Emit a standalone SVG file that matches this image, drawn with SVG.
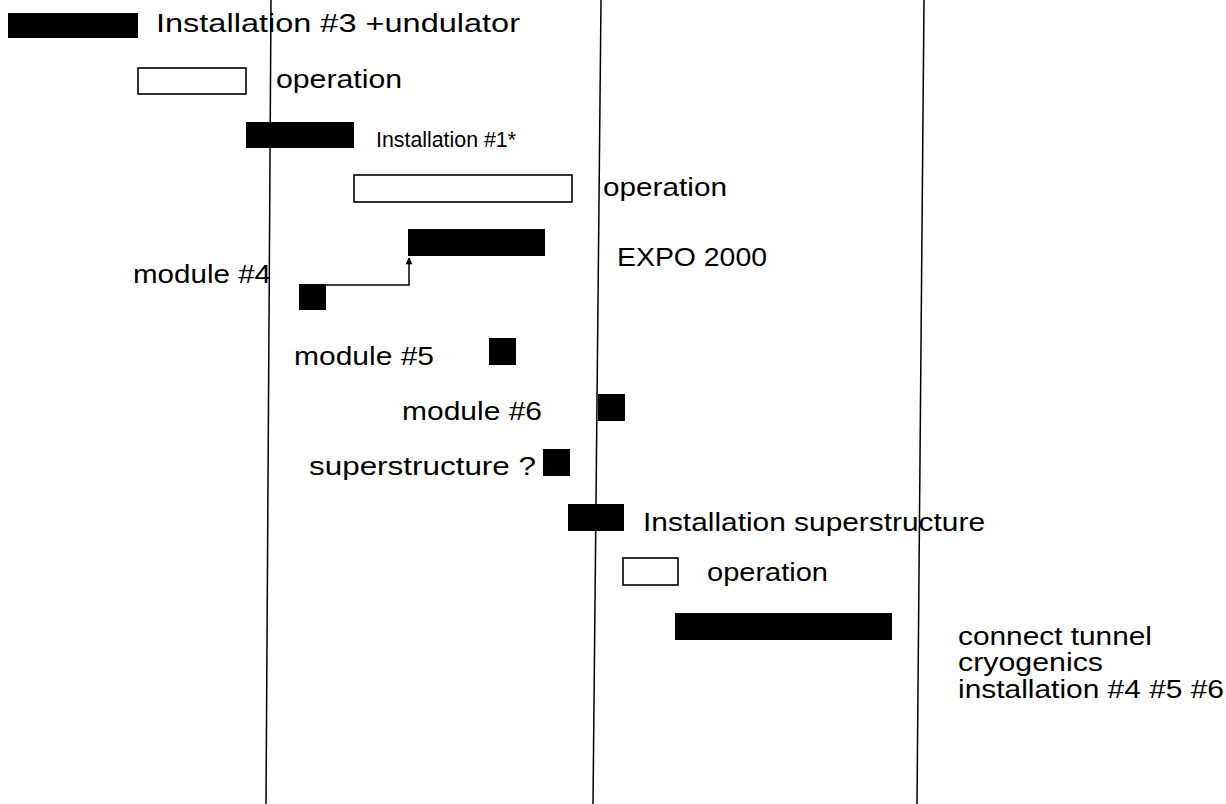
<svg xmlns="http://www.w3.org/2000/svg" width="1226" height="804" viewBox="0 0 1226 804">
<style>
.bar{fill:#000}
.op{fill:#fff;stroke:#000;stroke-width:1.6}
.t{font-family:"Liberation Sans",Arial,sans-serif;font-size:25px;fill:#000}
.s{font-size:22px}
.grid{stroke:#000;stroke-width:1.5;fill:none}
.conn{stroke:#000;stroke-width:1.5;fill:none}
</style>
<defs>
<marker id="ah" viewBox="0 0 10 10" refX="9" refY="5" markerWidth="10" markerHeight="7" orient="auto" markerUnits="userSpaceOnUse">
<path d="M0,0 L10,5 L0,10 z" fill="#000"/>
</marker>
</defs>
<rect width="1226" height="804" fill="#fff"/>
<g id="gridlines">
<line class="grid" x1="271" y1="0" x2="266" y2="804"/>
<line class="grid" x1="601" y1="0" x2="593" y2="804"/>
<line class="grid" x1="924" y1="0" x2="917" y2="804"/>
</g>
<g id="n1"><rect class="bar" x="8" y="13" width="130" height="25"/><text class="t" x="156" y="32" textLength="364" lengthAdjust="spacingAndGlyphs">Installation #3 +undulator</text></g>
<g id="n2"><rect class="op" x="138" y="68" width="108" height="26"/><text class="t" x="276" y="88" textLength="126" lengthAdjust="spacingAndGlyphs">operation</text></g>
<g id="n3"><rect class="bar" x="246" y="122" width="108" height="26"/><text class="t s" x="376" y="147" textLength="140" lengthAdjust="spacingAndGlyphs">Installation #1*</text></g>
<g id="n4"><rect class="op" x="354" y="175" width="218" height="27"/><text class="t" x="603" y="196" textLength="124" lengthAdjust="spacingAndGlyphs">operation</text></g>
<g id="n5"><rect class="bar" x="408" y="229" width="137" height="27"/><text class="t" x="617" y="266" textLength="150" lengthAdjust="spacingAndGlyphs">EXPO 2000</text></g>
<g id="n6"><rect class="bar" x="299" y="284" width="27" height="26"/><text class="t" x="133" y="283" textLength="138" lengthAdjust="spacingAndGlyphs">module #4</text></g>
<g id="n7"><rect class="bar" x="489" y="338" width="27" height="27"/><text class="t" x="294" y="365" textLength="140" lengthAdjust="spacingAndGlyphs">module #5</text></g>
<g id="n8"><rect class="bar" x="598" y="394" width="27" height="27"/><text class="t" x="402" y="420" textLength="140" lengthAdjust="spacingAndGlyphs">module #6</text></g>
<g id="n9"><rect class="bar" x="543" y="449" width="27" height="27"/><text class="t" x="309" y="475" textLength="227" lengthAdjust="spacingAndGlyphs">superstructure ?</text></g>
<g id="n10"><rect class="bar" x="568" y="504" width="56" height="27"/><text class="t" x="643" y="531" textLength="342" lengthAdjust="spacingAndGlyphs">Installation superstructure</text></g>
<g id="n11"><rect class="op" x="623" y="558" width="55" height="27"/><text class="t" x="707" y="581" textLength="121" lengthAdjust="spacingAndGlyphs">operation</text></g>
<g id="n12"><rect class="bar" x="675" y="613" width="217" height="27"/>
<text class="t" x="958" y="645" textLength="194" lengthAdjust="spacingAndGlyphs">connect tunnel</text>
<text class="t" x="958" y="671" textLength="145" lengthAdjust="spacingAndGlyphs">cryogenics</text>
<text class="t" x="958" y="698" textLength="266" lengthAdjust="spacingAndGlyphs">installation #4 #5 #6</text></g>
<g id="connectors">
<path class="conn" d="M326,285 H409 V258" marker-end="url(#ah)"/>
</g>
</svg>
